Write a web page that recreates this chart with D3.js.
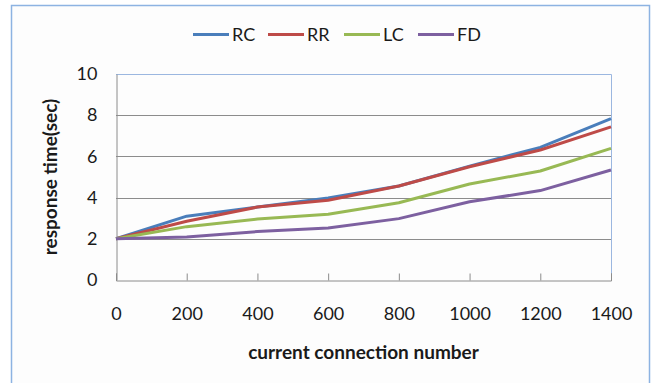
<!DOCTYPE html>
<html>
<head>
<meta charset="utf-8">
<script src="https://cdn.jsdelivr.net/npm/d3@7"></script>
<style>
  html, body { margin: 0; padding: 0; background: #ffffff; }
  svg { display: block; }
  text { font-family: Lato, "Open Sans", sans-serif; fill: #1a1a1a; }
</style>
</head>
<body>
<svg id="chart" width="658" height="383"></svg>
<script>
// Connection counts on the x axis
const connections = [0, 200, 400, 600, 800, 1000, 1200, 1400];

// Response time (sec) per scheduling algorithm
const rcValues = [2.0, 3.1, 3.54, 3.98, 4.56, 5.53, 6.44, 7.83];
const rrValues = [2.0, 2.85, 3.54, 3.87, 4.56, 5.50, 6.31, 7.43];
const lcValues = [2.0, 2.59, 2.96, 3.19, 3.75, 4.66, 5.29, 6.39];
const fdValues = [2.0, 2.09, 2.35, 2.52, 2.98, 3.80, 4.34, 5.34];

const seriesNames = ["RC", "RR", "LC", "FD"];
const seriesColors = ["#4a7ebb", "#be4b48", "#98b954", "#7d60a0"];
const yTicks = [0, 2, 4, 6, 8, 10];

const series = [rcValues, rrValues, lcValues, fdValues].map((vals, i) => ({
  name: seriesNames[i],
  color: seriesColors[i],
  points: vals.map((v, j) => ({ x: connections[j], y: v }))
}));

const svg = d3.select("#chart");

// Chart frame
svg.append("rect")
  .attr("x", 11.5).attr("y", 5.5)
  .attr("width", 638).attr("height", 400)
  .attr("fill", "#fdfdfd")
  .attr("stroke", "#8db3e2").attr("stroke-width", 1.5);

const plot = { left: 116, right: 611, top: 74, bottom: 280 };

const x = d3.scaleLinear().domain([0, 1400]).range([plot.left, plot.right]);
const y = d3.scaleLinear().domain([0, 10]).range([plot.bottom, plot.top]);

// Horizontal gridlines
svg.append("g")
  .selectAll("line")
  .data(yTicks.filter(t => t > 0 && t < 10))
  .join("line")
  .attr("x1", plot.left).attr("x2", plot.right)
  .attr("y1", d => Math.round(y(d)) + 0.5).attr("y2", d => Math.round(y(d)) + 0.5)
  .attr("stroke", "#8c8c8c").attr("stroke-width", 1);

// Plot-area top and right edges
svg.append("path")
  .attr("d", `M${plot.left},${plot.top + 0.5}H${plot.right + 0.5}V${plot.bottom}`)
  .attr("fill", "none")
  .attr("stroke", "#9bb7e0").attr("stroke-width", 1);

// X axis with inward ticks
const xAxis = d3.axisBottom(x)
  .tickValues(connections)
  .tickSize(-7)
  .tickPadding(27)
  .tickFormat(d3.format("d"));

const gx = svg.append("g")
  .attr("transform", `translate(0,${plot.bottom + 0.5})`)
  .call(xAxis);
gx.select(".domain").attr("stroke", "#8c8c8c");
gx.selectAll(".tick line").attr("stroke", "#8c8c8c");
gx.selectAll(".tick text")
  .attr("font-size", 18)
  .attr("font-family", "Lato, sans-serif")
  .attr("fill", "#1a1a1a");

// Y axis without tick marks
const yAxis = d3.axisLeft(y)
  .tickValues(yTicks)
  .tickSize(0)
  .tickPadding(19);

const gy = svg.append("g")
  .attr("transform", `translate(${plot.left + 0.5},0)`)
  .call(yAxis);
gy.select(".domain").attr("stroke", "#8c8c8c");
gy.selectAll(".tick text")
  .attr("font-size", 18)
  .attr("font-family", "Lato, sans-serif")
  .attr("fill", "#1a1a1a");

// Series lines
const line = d3.line().x(d => x(d.x)).y(d => y(d.y));
svg.append("g")
  .selectAll("path")
  .data(series)
  .join("path")
  .attr("d", d => line(d.points))
  .attr("fill", "none")
  .attr("stroke", d => d.color)
  .attr("stroke-width", 3)
  .attr("stroke-linejoin", "round");

// Axis titles
svg.append("text")
  .attr("x", (plot.left + plot.right) / 2)
  .attr("y", 359)
  .attr("text-anchor", "middle")
  .attr("font-size", 19)
  .attr("font-weight", "bold")
  .text("current connection number");

svg.append("text")
  .attr("transform", `translate(57,${(plot.top + plot.bottom) / 2}) rotate(-90)`)
  .attr("text-anchor", "middle")
  .attr("font-size", 19)
  .attr("font-weight", "bold")
  .text("response time(sec)");

// Legend
const legendItems = [
  { x: 193 }, { x: 268 }, { x: 344 }, { x: 418 }
];
const legend = svg.append("g");
series.forEach((s, i) => {
  const lx = legendItems[i].x;
  legend.append("line")
    .attr("x1", lx).attr("x2", lx + 36)
    .attr("y1", 34.5).attr("y2", 34.5)
    .attr("stroke", s.color).attr("stroke-width", 3);
  legend.append("text")
    .attr("x", lx + 39)
    .attr("y", 41)
    .attr("font-size", 18)
    .text(s.name);
});
</script>
</body>
</html>
